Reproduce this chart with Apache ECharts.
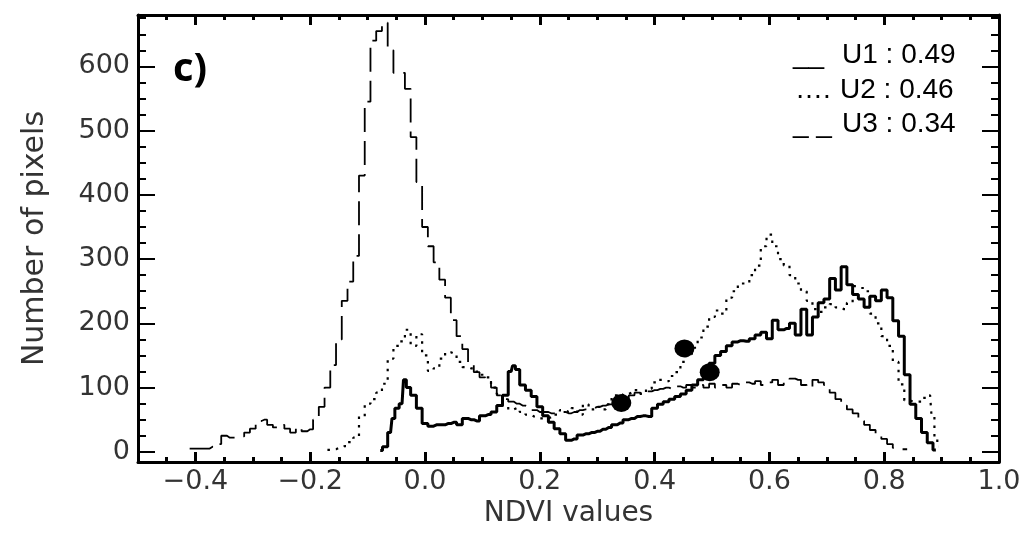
<!DOCTYPE html>
<html>
<head>
<meta charset="utf-8">
<script src="https://cdn.jsdelivr.net/npm/echarts@6/dist/echarts.min.js"></script>
<style>
html,body{margin:0;padding:0;background:#fff;}
#chart{width:1034px;height:533px;}
</style>
</head>
<body>
<div id="chart"></div>
<script>
// ---- data ----
const xMajorTicks = [-0.4, -0.2, 0.0, 0.2, 0.4, 0.6, 0.8, 1.0];
const yMajorTicks = [0, 100, 200, 300, 400, 500, 600];
const legendLabels = ['U1 : 0.49', 'U2 : 0.46', 'U3 : 0.34'];
const legendMarks = ['__', '\u2026.', '_ _'];

// U1 (solid thick)
const u1 = [[-0.078,2],[-0.07,8],[-0.06,30],[-0.055,52],[-0.05,68],[-0.04,75],[-0.035,112],[-0.03,100],[-0.02,88],[-0.01,68],[0.00,44],[0.01,40],[0.02,42],[0.03,42],[0.04,44],[0.05,46],[0.06,42],[0.07,52],[0.08,50],[0.09,48],[0.10,56],[0.11,58],[0.12,62],[0.13,72],[0.14,88],[0.15,125],[0.155,134],[0.16,128],[0.17,104],[0.18,96],[0.19,86],[0.20,70],[0.21,56],[0.22,46],[0.23,36],[0.24,28],[0.25,18],[0.26,20],[0.27,26],[0.28,28],[0.29,30],[0.30,32],[0.31,35],[0.32,38],[0.33,42],[0.34,45],[0.35,50],[0.36,52],[0.37,55],[0.38,56],[0.39,55],[0.40,68],[0.41,74],[0.42,78],[0.43,82],[0.44,86],[0.45,90],[0.46,96],[0.47,104],[0.48,112],[0.49,122],[0.50,138],[0.51,150],[0.52,156],[0.53,165],[0.54,171],[0.55,173],[0.56,172],[0.57,176],[0.58,182],[0.59,186],[0.60,176],[0.61,205],[0.62,190],[0.63,192],[0.64,200],[0.65,182],[0.66,222],[0.67,182],[0.68,210],[0.69,232],[0.70,238],[0.71,270],[0.72,252],[0.73,288],[0.74,260],[0.75,245],[0.76,238],[0.77,225],[0.78,242],[0.79,235],[0.80,252],[0.81,240],[0.82,204],[0.83,180],[0.84,120],[0.85,74],[0.86,52],[0.87,30],[0.88,14],[0.89,3]];

// U2 (dotted)
const u2 = [[-0.17,3],[-0.16,4],[-0.15,6],[-0.14,9],[-0.13,15],[-0.12,22],[-0.11,55],[-0.10,75],[-0.09,82],[-0.08,92],[-0.07,106],[-0.06,145],[-0.05,165],[-0.04,172],[-0.03,190],[-0.02,165],[-0.01,183],[0.00,150],[0.01,126],[0.02,130],[0.03,145],[0.04,155],[0.05,153],[0.06,140],[0.07,132],[0.08,130],[0.09,125],[0.10,120],[0.11,116],[0.12,100],[0.13,90],[0.14,70],[0.15,66],[0.16,68],[0.17,62],[0.18,58],[0.19,55],[0.20,52],[0.21,52],[0.22,54],[0.23,58],[0.24,65],[0.25,62],[0.26,68],[0.27,58],[0.28,74],[0.29,66],[0.30,70],[0.31,66],[0.32,74],[0.33,88],[0.34,86],[0.35,90],[0.36,92],[0.37,96],[0.38,90],[0.39,98],[0.40,108],[0.41,112],[0.42,110],[0.43,118],[0.44,124],[0.45,140],[0.46,152],[0.47,162],[0.48,178],[0.49,195],[0.50,210],[0.51,220],[0.52,215],[0.53,240],[0.54,250],[0.55,262],[0.56,262],[0.57,275],[0.58,290],[0.59,320],[0.60,338],[0.61,320],[0.62,300],[0.63,290],[0.64,275],[0.65,262],[0.66,250],[0.67,235],[0.68,222],[0.69,218],[0.70,225],[0.71,230],[0.72,225],[0.73,222],[0.74,232],[0.75,258],[0.76,255],[0.77,250],[0.78,215],[0.79,200],[0.80,180],[0.81,165],[0.82,140],[0.83,105],[0.84,80],[0.85,78],[0.86,78],[0.87,84],[0.88,88],[0.885,55],[0.89,22],[0.895,8]];

// U3 (dashed)
const u3 = [[-0.41,5],[-0.40,5],[-0.39,5],[-0.38,5],[-0.37,8],[-0.36,12],[-0.35,25],[-0.34,22],[-0.33,22],[-0.32,24],[-0.31,30],[-0.30,36],[-0.29,48],[-0.28,50],[-0.27,42],[-0.26,38],[-0.25,42],[-0.24,36],[-0.23,30],[-0.22,38],[-0.21,32],[-0.20,35],[-0.19,50],[-0.18,70],[-0.17,100],[-0.16,135],[-0.15,175],[-0.14,235],[-0.13,265],[-0.12,305],[-0.11,430],[-0.10,545],[-0.09,640],[-0.08,655],[-0.07,668],[-0.06,625],[-0.05,590],[-0.04,590],[-0.03,565],[-0.02,490],[-0.01,420],[0.00,350],[0.01,320],[0.02,295],[0.03,268],[0.04,240],[0.05,205],[0.06,180],[0.07,160],[0.08,135],[0.09,124],[0.10,116],[0.11,112],[0.12,100],[0.13,88],[0.14,82],[0.15,78],[0.16,75],[0.17,72],[0.18,70],[0.19,65],[0.20,62],[0.21,62],[0.22,60],[0.23,60],[0.24,62],[0.25,60],[0.26,62],[0.27,65],[0.28,66],[0.29,68],[0.30,70],[0.31,72],[0.32,74],[0.33,75],[0.34,78],[0.35,82],[0.36,88],[0.37,92],[0.38,90],[0.39,94],[0.40,96],[0.41,98],[0.42,100],[0.43,98],[0.44,102],[0.45,100],[0.46,104],[0.47,100],[0.48,104],[0.49,100],[0.50,106],[0.51,100],[0.52,104],[0.53,100],[0.54,106],[0.55,104],[0.56,108],[0.57,106],[0.58,110],[0.59,104],[0.60,108],[0.61,112],[0.62,104],[0.63,108],[0.64,114],[0.65,112],[0.66,104],[0.67,100],[0.68,112],[0.69,108],[0.70,104],[0.71,92],[0.72,82],[0.73,72],[0.74,66],[0.75,60],[0.76,48],[0.77,42],[0.78,34],[0.79,26],[0.80,20],[0.81,12],[0.82,6],[0.83,4],[0.84,4]];

// threshold markers (NDVI, pixels)
const markers = [[0.342,76],[0.452,161],[0.496,124]];

// ---- derived tick lists ----
const xMinorTicks = [];
for (let i = -10; i <= 20; i++) xMinorTicks.push(+(i*0.05).toFixed(2));
const yMinorTicks = [];
for (let i = 0; i <= 27; i++) yMinorTicks.push(i*25);

const chart = echarts.init(document.getElementById('chart'), null, {renderer:'canvas'});
const tickFont = {fontFamily:'DejaVu Sans', fontSize:27, color:'#333'};
const fmtX = v => (v < 0 ? '\u2212' : '') + Math.abs(v).toFixed(1);

const grid = {left:138, right:35, top:15, bottom:65, containLabel:false};
const xBase = {type:'value', min:-0.5, max:1.0, splitLine:{show:false}};
const yBase = {type:'value', min:-16, max:680, splitLine:{show:false}};
const frameLine = {show:true, onZero:false, lineStyle:{color:'#000', width:3}};
const noLine = {show:false, onZero:false};

chart.setOption({
  animation:false,
  backgroundColor:'#fff',
  grid: grid,
  xAxis: [
    Object.assign({}, xBase, {position:'bottom',
      name:'NDVI values', nameLocation:'middle', nameGap:34,
      nameTextStyle:Object.assign({}, tickFont, {fontSize:28}),
      axisLine:frameLine,
      axisTick:{show:true, inside:true, length:10, lineStyle:{color:'#000', width:3}, customValues:xMajorTicks},
      axisLabel:Object.assign({show:true, margin:6, customValues:xMajorTicks, formatter:fmtX}, tickFont)}),
    Object.assign({}, xBase, {position:'bottom',
      axisLine:noLine,
      axisTick:{show:true, inside:true, length:5, lineStyle:{color:'#000', width:3}, customValues:xMinorTicks},
      axisLabel:{show:false}}),
    Object.assign({}, xBase, {position:'top',
      axisLine:frameLine,
      axisTick:{show:true, inside:true, length:10, lineStyle:{color:'#000', width:3}, customValues:xMajorTicks},
      axisLabel:{show:false}}),
    Object.assign({}, xBase, {position:'top',
      axisLine:noLine,
      axisTick:{show:true, inside:true, length:5, lineStyle:{color:'#000', width:3}, customValues:xMinorTicks},
      axisLabel:{show:false}})
  ],
  yAxis: [
    Object.assign({}, yBase, {position:'left',
      name:'Number of pixels', nameLocation:'middle', nameGap:88, nameRotate:90,
      nameTextStyle:Object.assign({}, tickFont, {fontSize:30}),
      axisLine:frameLine,
      axisTick:{show:true, inside:true, length:17, lineStyle:{color:'#000', width:2}, customValues:yMajorTicks},
      axisLabel:Object.assign({show:true, margin:8, customValues:yMajorTicks}, tickFont)}),
    Object.assign({}, yBase, {position:'left',
      axisLine:noLine,
      axisTick:{show:true, inside:true, length:8, lineStyle:{color:'#000', width:2}, customValues:yMinorTicks},
      axisLabel:{show:false}}),
    Object.assign({}, yBase, {position:'right',
      axisLine:frameLine,
      axisTick:{show:true, inside:true, length:17, lineStyle:{color:'#000', width:2}, customValues:yMajorTicks},
      axisLabel:{show:false}}),
    Object.assign({}, yBase, {position:'right',
      axisLine:noLine,
      axisTick:{show:true, inside:true, length:8, lineStyle:{color:'#000', width:2}, customValues:yMinorTicks},
      axisLabel:{show:false}})
  ],
  series: [
    {name:'U3', type:'line', data:u3, step:'middle', showSymbol:false, symbol:'none', clip:true,
      lineStyle:{color:'#000', width:1.8, type:[24,9]}},
    {name:'U2', type:'line', data:u2, step:'middle', showSymbol:false, symbol:'none', clip:true,
      lineStyle:{color:'#000', width:2.2, type:[2.5,6]}},
    {name:'U1', type:'line', data:u1, step:'middle', showSymbol:false, symbol:'none', clip:true,
      lineStyle:{color:'#000', width:3}},
    {name:'markers', type:'scatter', data:markers, symbol:'circle', symbolSize:[20,18],
      itemStyle:{color:'#000', opacity:1}, z:5}
  ],
  graphic: [
    {type:'text', left:173, top:50, style:{text:'c)', font:'bold 40px "Open Sans", "Liberation Sans", sans-serif', fill:'#000'}},
    {type:'text', x:793, y:55, style:{text:legendMarks[0], font:'28px "Liberation Sans", Arial, sans-serif', fill:'#000', textVerticalAlign:'middle'}},
    {type:'text', x:842, y:55, style:{text:legendLabels[0], font:'28px "Liberation Sans", Arial, sans-serif', fill:'#000', textVerticalAlign:'middle'}},
    {type:'text', x:795, y:90, style:{text:legendMarks[1], font:'28px "Liberation Sans", Arial, sans-serif', fill:'#000', textVerticalAlign:'middle'}},
    {type:'text', x:840, y:90, style:{text:legendLabels[1], font:'28px "Liberation Sans", Arial, sans-serif', fill:'#000', textVerticalAlign:'middle'}},
    {type:'text', x:793, y:124, style:{text:legendMarks[2], font:'28px "Liberation Sans", Arial, sans-serif', fill:'#000', textVerticalAlign:'middle'}},
    {type:'text', x:842, y:124, style:{text:legendLabels[2], font:'28px "Liberation Sans", Arial, sans-serif', fill:'#000', textVerticalAlign:'middle'}}
  ]
});
</script>
</body>
</html>
